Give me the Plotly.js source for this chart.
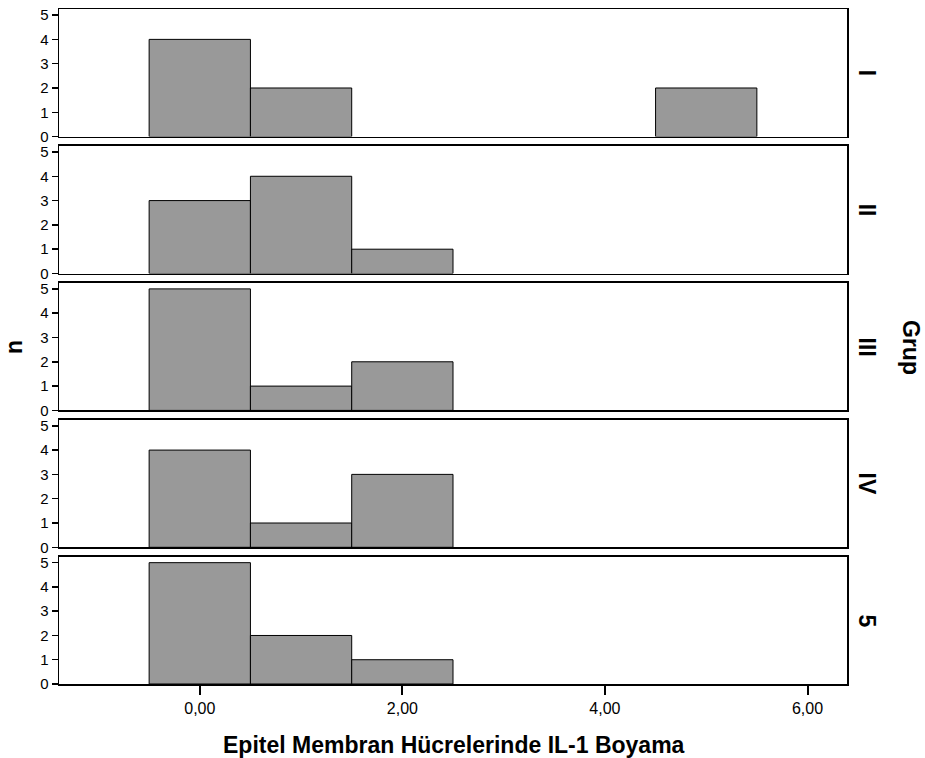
<!DOCTYPE html>
<html>
<head>
<meta charset="utf-8">
<script src="https://cdn.plot.ly/plotly-3.0.1.min.js"></script>
<style>
  html, body { margin: 0; padding: 0; background: #fff; }
  #chart { width: 925px; height: 758px; }
</style>
</head>
<body>
<div id="chart"></div>
<script>
// Histogram bins (bin centres, width 1) of IL-1 staining per group
const binCenters = [0, 1, 2, 3, 4, 5];
const groupNames = ["I", "II", "III", "IV", "5"];
const countsI   = [4, 2, 0, 0, 0, 2];
const countsII  = [3, 4, 1, 0, 0, 0];
const countsIII = [5, 1, 2, 0, 0, 0];
const countsIV  = [4, 1, 3, 0, 0, 0];
const counts5   = [5, 2, 1, 0, 0, 0];
const xTickVals = [0, 2, 4, 6];
const xTickText = ["0,00", "2,00", "4,00", "6,00"];
const yTickVals = [0, 1, 2, 3, 4, 5];

const allCounts = [countsI, countsII, countsIII, countsIV, counts5];

const W = 925, H = 758;
const mT = 9, mB = 74, mL = 59, mR = 78;
const plotH = H - mT - mB;
const panelH = 127.6, panelStep = 136.9;

const font = "Arial, 'Liberation Sans', sans-serif";
const xTickSize = 16, yTickSize = 15, labelSize = 23;
const traces = [];
const layout = {
  width: W, height: H,
  margin: { l: mL, r: mR, t: mT, b: mB, pad: 0 },
  paper_bgcolor: "#fff", plot_bgcolor: "#fff",
  showlegend: false,
  bargap: 0,
  font: { family: font, color: "#000", size: yTickSize },
  annotations: []
};

allCounts.forEach((counts, k) => {
  const sfx = k === 0 ? "" : String(k + 1);
  const xs = [], ys = [];
  counts.forEach((c, i) => { if (c > 0) { xs.push(binCenters[i]); ys.push(c); } });
  traces.push({
    type: "bar", x: xs, y: ys, width: 1,
    xaxis: "x" + sfx, yaxis: "y" + sfx,
    marker: { color: "#999999", line: { color: "#000", width: 1 } },
    hoverinfo: "x+y"
  });
  const top = mT + k * panelStep;
  const bot = top + panelH;
  const dom = [(H - mB - bot) / plotH, (H - mB - top) / plotH];
  const isLast = k === allCounts.length - 1;
  layout["xaxis" + sfx] = {
    range: [-1.39, 6.39], anchor: "y" + sfx,
    showline: true, mirror: true, linecolor: "#000", linewidth: 1.5,
    showgrid: false, zeroline: false,
    tickvals: xTickVals, ticktext: xTickText,
    ticks: isLast ? "outside" : "", ticklen: 9, tickwidth: 2, tickcolor: "#000",
    showticklabels: isLast,
    tickfont: { size: xTickSize, family: font, color: "#000" }
  };
  layout["yaxis" + sfx] = {
    range: [0, 5.25], domain: dom, anchor: "x" + sfx,
    showline: true, mirror: true, linecolor: "#000", linewidth: 1.5,
    showgrid: false, zeroline: false,
    tickvals: yTickVals,
    ticks: "outside", ticklen: 6, tickwidth: 1.5, tickcolor: "#000",
    tickfont: { size: yTickSize, family: font, color: "#000" }
  };
  layout.annotations.push({
    text: "<b>" + groupNames[k] + "</b>",
    xref: "paper", yref: "paper",
    x: (867 - mL) / (W - mL - mR), y: (dom[0] + dom[1]) / 2,
    xanchor: "center", yanchor: "middle", showarrow: false,
    textangle: 90, font: { size: labelSize, family: font, color: "#000" }
  });
});

layout.annotations.push(
  {
    text: "<b>Grup</b>", xref: "paper", yref: "paper",
    x: (911 - mL) / (W - mL - mR), y: (H - mB - 347) / plotH,
    xanchor: "center", yanchor: "middle", showarrow: false,
    textangle: 90, font: { size: labelSize, family: font, color: "#000" }
  },
  {
    text: "<b>n</b>", xref: "paper", yref: "paper",
    x: (14 - mL) / (W - mL - mR), y: (H - mB - 347) / plotH,
    xanchor: "center", yanchor: "middle", showarrow: false,
    textangle: -90, font: { size: labelSize, family: font, color: "#000" }
  },
  {
    text: "<b>Epitel Membran Hücrelerinde IL-1 Boyama</b>", xref: "paper", yref: "paper",
    x: (454 - mL) / (W - mL - mR), y: (H - mB - 745) / plotH,
    xanchor: "center", yanchor: "middle", showarrow: false,
    font: { size: labelSize, family: font, color: "#000" }
  }
);

Plotly.newPlot("chart", traces, layout, { displayModeBar: false, staticPlot: true });
</script>
</body>
</html>
